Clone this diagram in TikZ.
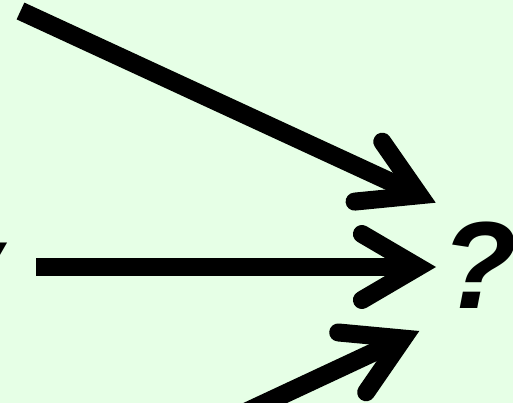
\documentclass[tikz,border=0pt]{standalone}
\usepackage{fontspec}
\newfontfamily\lib{Liberation Sans}
\usetikzlibrary{arrows.meta}
\definecolor{bg}{RGB}{230,255,230}
\pgfdeclarearrow{
  name = FatBarb,
  setup code = {
    \pgfarrowssettipend{0pt}
    \pgfarrowssetlineend{-25pt}
    \pgfarrowssetbackend{-83pt}
  },
  drawing code = {
    \pgfsetlinewidth{18pt}
    \pgfsetroundcap
    \pgfsetmiterjoin
    \pgfsetdash{}{0pt}
    \pgfpathmoveto{\pgfqpoint{-74.1pt}{33pt}}
    \pgfpathlineto{\pgfqpoint{-17.8pt}{0pt}}
    \pgfpathlineto{\pgfqpoint{-74.1pt}{-33pt}}
    \pgfusepathqstroke
  }
}
\begin{document}
\begin{tikzpicture}[x=1pt,y=-1pt,
  fat/.style={line width=18.5pt, line cap=butt, -{FatBarb}},
  lbl/.style={font=\lib\bfseries\itshape\fontsize{124}{124}\selectfont, inner sep=0pt}]
\fill[bg] (0,0) rectangle (513,403);
\useasboundingbox (0,0) rectangle (513,403);
\clip (0,0) rectangle (513,403);
\node[lbl, anchor=base west] (q) at (441,308) {?};
\node[lbl, anchor=base east] (y) at (3,308) {y};
\coordinate (s1) at (20.5,11);
\coordinate (t1) at (435.7,202.7);
\coordinate (s2) at (36,267);
\coordinate (t2) at (436,267);
\coordinate (s3) at (192.8,436.8);
\coordinate (t3) at (419.3,331);
\draw[fat] (s1) -- (t1);
\draw[fat] (s2) -- (t2);
\draw[fat] (s3) -- (t3);
\end{tikzpicture}
\end{document}
